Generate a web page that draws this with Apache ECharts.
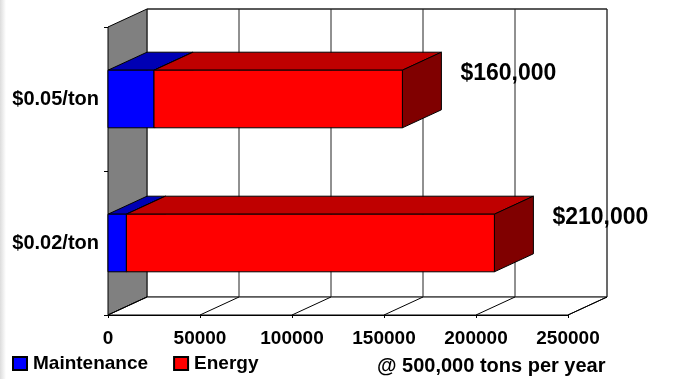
<!DOCTYPE html>
<html>
<head>
    <meta charset="utf-8"/>
    <title>Maintenance vs Energy cost</title>
    <script src="https://cdn.jsdelivr.net/npm/echarts@6/dist/echarts.min.js"></script>
    <style>
        html, body { margin: 0; padding: 0; background: #fff; }
        #main { width: 673px; height: 379px; }
    </style>
</head>
<body>
<div id="main"></div>
<script>
// data
var categories = ['$0.02/ton', '$0.05/ton'];
var maintenance = [10000, 25000];
var energy = [200000, 135000];
var xTicks = [0, 50000, 100000, 150000, 200000, 250000];

// depth of the fake 3d box (px)
var DX = 39, DY = -18;
var FONT = "'Liberation Sans', Arial, sans-serif";

var chart = echarts.init(document.getElementById('main'));

function boxRenderer(front, top, side, withLabel) {
    return function (params, api) {
        var start = api.value(0), cat = api.value(1), end = api.value(2);
        var p0 = api.coord([start, cat]);
        var p1 = api.coord([end, cat]);
        var h = api.size([0, 1])[1] * 0.4;
        var x0 = p0[0], x1 = p1[0], y0 = p0[1] - h / 2;
        var line = { stroke: '#000', lineWidth: 1 };
        var kids = [
            { type: 'polygon', shape: { points: [[x0, y0], [x0 + DX, y0 + DY], [x1 + DX, y0 + DY], [x1, y0]] },
              style: Object.assign({ fill: top }, line) },
            { type: 'polygon', shape: { points: [[x1, y0], [x1 + DX, y0 + DY], [x1 + DX, y0 + h + DY], [x1, y0 + h]] },
              style: Object.assign({ fill: side }, line) },
            { type: 'rect', shape: { x: x0, y: y0, width: x1 - x0, height: h },
              style: Object.assign({ fill: front }, line) }
        ];
        if (withLabel) {
            var total = maintenance[cat] + energy[cat];
            kids.push({
                type: 'text', x: x1 + DX + 19, y: y0 + 3,
                style: { text: '$' + total.toLocaleString('en-US'), fill: '#000',
                    font: 'bold 23px ' + FONT, verticalAlign: 'middle', align: 'left' }
            });
        }
        return { type: 'group', children: kids };
    };
}

// walls + floor, drawn once
function wallRenderer(params, api) {
    var cs = params.coordSys;
    var l = cs.x, t = cs.y, r = cs.x + cs.width, b = cs.y + cs.height;
    var st = { stroke: '#000', lineWidth: 1 };
    return { type: 'group', children: [
        { type: 'rect', shape: { x: l + DX, y: t + DY, width: cs.width, height: cs.height },
          style: { fill: '#fff', stroke: '#666', lineWidth: 1 } },
        { type: 'line', shape: { x1: l + DX, y1: t + DY, x2: r + DX, y2: t + DY }, style: st },
        { type: 'polygon', shape: { points: [[l, t], [l + DX, t + DY], [l + DX, b + DY], [l, b]] },
          style: { fill: '#808080', stroke: '#000', lineWidth: 1 } },
        { type: 'polygon', shape: { points: [[l, b], [l + DX, b + DY], [r + DX, b + DY], [r, b]] },
          style: { fill: '#fff', stroke: '#000', lineWidth: 1 } }
    ] };
}

// gridlines on back wall + depth lines on floor, one per tick
function gridRenderer(params, api) {
    var cs = params.coordSys;
    var p = api.coord([api.value(0), 0]);
    var x = p[0], t = cs.y, b = cs.y + cs.height;
    var kids = [
        { type: 'line', shape: { x1: x, y1: b, x2: x + DX, y2: b + DY }, style: { stroke: '#000', lineWidth: 1 } }
    ];
    if (params.dataIndex > 0) {
        kids.push({ type: 'line', shape: { x1: x + DX, y1: t + DY, x2: x + DX, y2: b + DY },
            style: { stroke: '#222', lineWidth: 1 } });
    }
    return { type: 'group', children: kids };
}

var maintData = categories.map(function (c, i) { return [0, i, maintenance[i]]; });
var energyData = categories.map(function (c, i) { return [maintenance[i], i, maintenance[i] + energy[i]]; });

var option = {
    animation: false,
    backgroundColor: '#fff',
    textStyle: { fontFamily: FONT },
    graphic: [{
        type: 'rect', left: 0, top: 0, shape: { width: 6, height: 379 }, z: -1,
        style: { fill: new echarts.graphic.LinearGradient(0, 0, 1, 0, [
            { offset: 0, color: '#dcdcdc' }, { offset: 1, color: '#ffffff' }]) }
    }],
    title: {
        text: '@ 500,000 tons per year',
        left: 377, top: 356, padding: 0,
        textStyle: { fontFamily: FONT, fontWeight: 'bold', fontSize: 20, color: '#000' }
    },
    legend: {
        data: ['Maintenance', 'Energy'],
        left: 12, top: 354, padding: 0,
        icon: 'rect', itemWidth: 14, itemHeight: 13, itemGap: 25,
        textStyle: { fontFamily: FONT, fontWeight: 'bold', fontSize: 19, color: '#000', padding: [0, 0, 0, 1] }
    },
    grid: { left: 108, top: 27, right: 105, bottom: 64, containLabel: false },
    xAxis: {
        type: 'value', min: 0, max: 250000, interval: 50000,
        axisLine: { show: true, lineStyle: { color: '#000', width: 1 } },
        axisTick: { show: true, length: 3, lineStyle: { color: '#000' } },
        splitLine: { show: false },
        axisLabel: { margin: 14, color: '#000', fontFamily: FONT, fontWeight: 'bold', fontSize: 19,
            formatter: function (v) { return String(v); } }
    },
    yAxis: {
        type: 'category', data: categories,
        axisLine: { show: true, lineStyle: { color: '#000', width: 1 } },
        axisTick: { show: true, length: 4, lineStyle: { color: '#000' } },
        axisLabel: { margin: 9, color: '#000', fontFamily: FONT, fontWeight: 'bold', fontSize: 20 }
    },
    series: [
        { type: 'custom', name: 'walls', renderItem: wallRenderer, data: [[0, 0]], z: 1, silent: true,
          encode: { x: 0, y: 1 } },
        { type: 'custom', name: 'grid', renderItem: gridRenderer, data: xTicks.map(function (v) { return [v, 0]; }),
          z: 1, silent: true, encode: { x: 0, y: 1 } },
        { type: 'custom', name: 'Maintenance', renderItem: boxRenderer('#0000ff', '#0000b4', '#000080', false),
          data: maintData, z: 3, encode: { x: [0, 2], y: 1 },
          itemStyle: { color: '#0000ff', borderColor: '#000', borderWidth: 1 } },
        { type: 'custom', name: 'Energy', renderItem: boxRenderer('#ff0000', '#bf0000', '#800000', true),
          data: energyData, z: 4, encode: { x: [0, 2], y: 1 },
          itemStyle: { color: '#ff0000', borderColor: '#000', borderWidth: 1 } }
    ]
};

chart.setOption(option);
</script>
</body>
</html>
